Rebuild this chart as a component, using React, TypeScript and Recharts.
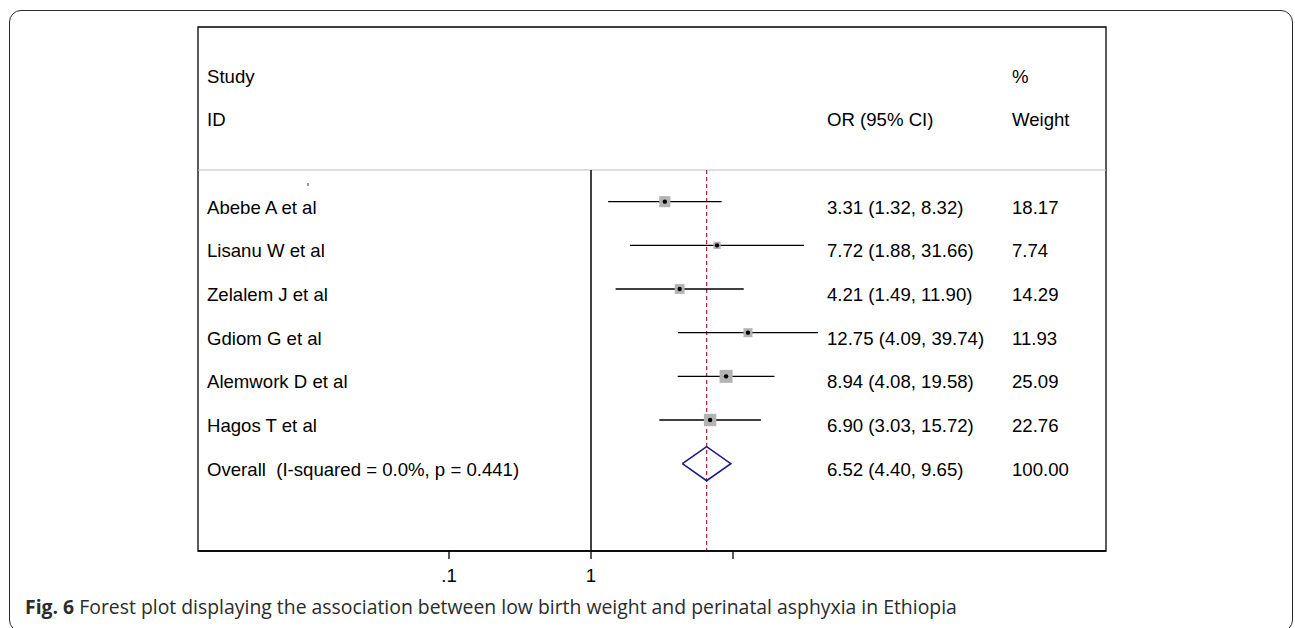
import { ComposedChart, XAxis, YAxis, Scatter, Line, ReferenceLine, ReferenceArea } from 'recharts';

// study rows
const studies = ['Abebe A et al', 'Lisanu W et al', 'Zelalem J et al', 'Gdiom G et al', 'Alemwork D et al', 'Hagos T et al'];
const oddsRatios = [3.31, 7.72, 4.21, 12.75, 8.94, 6.9];
const lowerCI = [1.32, 1.88, 1.49, 4.09, 4.08, 3.03];
const upperCI = [8.32, 31.66, 11.9, 39.74, 19.58, 15.72];
const weights = [18.17, 7.74, 14.29, 11.93, 25.09, 22.76];

// pooled estimate
const overallLabel = 'Overall  (I-squared = 0.0%, p = 0.441)';
const overallOR = 6.52;
const overallLower = 4.4;
const overallUpper = 9.65;
const overallWeight = 100;

// header + axis
const headerTop = ['Study', '', '%'];
const headerBottom = ['ID', 'OR (95% CI)', 'Weight'];
const xTicks = [0.1, 1, 10];
const xTickLabels = ['.1', '1', ''];

const FONT = '"Liberation Sans", Arial, Helvetica, sans-serif';
const FS = 18.6;
const X_DOMAIN: [number, number] = [0.001708, 4234];
const Y_DOMAIN: [number, number] = [-3, 9];
const SEP_Y = 0.275; // header separator, in row units
const COLS = [207, 827, 1012];

const ci = (o: number, l: number, u: number) => `${o.toFixed(2)} (${l.toFixed(2)}, ${u.toFixed(2)})`;

const overallRow = studies.length + 1;
const tableRows = [
  { y: -2, cells: headerTop },
  { y: -1, cells: headerBottom },
  { y: 0, cells: [] as string[] },
  ...studies.map((s, i) => ({
    y: i + 1,
    cells: [s, ci(oddsRatios[i], lowerCI[i], upperCI[i]), weights[i].toFixed(2)],
  })),
  { y: overallRow, cells: [overallLabel, ci(overallOR, overallLower, overallUpper), overallWeight.toFixed(2)] },
].map((r) => ({ ...r, x: 1 }));

const points = studies.map((s, i) => ({ name: s, x: oddsRatios[i], y: i + 1, w: weights[i] }));

const DH = 0.39; // diamond half height
const diamond = [
  { x: overallLower, y: overallRow },
  { x: overallOR, y: overallRow - DH },
  { x: overallUpper, y: overallRow },
  { x: overallOR, y: overallRow + DH },
  { x: overallLower, y: overallRow },
];

function RowText(props: any) {
  const { cy, payload } = props;
  if (payload.y === 0) {
    return <line x1={308} x2={308} y1={cy + 25} y2={cy + 28} stroke="#333" strokeWidth={1} />;
  }
  return (
    <g>
      {payload.cells.map((t: string, j: number) => (
        <text key={j} x={COLS[j]} y={cy + 12} fontSize={FS} fontFamily={FONT} fill="#000" style={{ whiteSpace: 'pre' }}>
          {t}
        </text>
      ))}
    </g>
  );
}

function Marker(props: any) {
  const { cx, cy, payload } = props;
  const side = 2.6 * Math.sqrt(payload.w);
  return (
    <g>
      <rect x={cx - side / 2} y={cy - side / 2} width={side} height={side} fill="#b3b3b3" />
      <circle cx={cx} cy={cy} r={2.2} fill="#000" />
    </g>
  );
}

export default function App() {
  return (
    <div style={{ position: 'fixed', left: 0, top: 0, width: 1295, height: 628, background: '#fff', overflow: 'hidden' }}>
      <div
        style={{
          position: 'absolute', left: 9, top: 10, width: 1282, height: 620,
          border: '1.5px solid #2a2a2a', borderRadius: 12,
        }}
      />
      <div style={{ position: 'absolute', left: 0, top: 0 }}>
        <ComposedChart width={1295} height={628} margin={{ top: 27, left: 198, right: 189, bottom: 37 }}>
          <XAxis
            type="number"
            dataKey="x"
            scale="log"
            domain={X_DOMAIN}
            allowDataOverflow
            ticks={xTicks}
            interval={0}
            height={40}
            tickSize={8}
            tickMargin={10}
            tickFormatter={(v: number) => xTickLabels[xTicks.indexOf(v)] ?? ''}
            tick={{ fontSize: FS, fontFamily: FONT, fill: '#000' }}
            axisLine={{ stroke: '#000', strokeWidth: 1.3 }}
            tickLine={{ stroke: '#000', strokeWidth: 1.3 }}
          />
          <YAxis type="number" dataKey="y" domain={Y_DOMAIN} reversed allowDataOverflow hide />
          <ReferenceArea
            x1={X_DOMAIN[0]} x2={X_DOMAIN[1]} y1={Y_DOMAIN[0]} y2={Y_DOMAIN[1]}
            fill="none" fillOpacity={0} stroke="#000" strokeWidth={1.3} ifOverflow="visible"
          />
          <ReferenceLine y={SEP_Y} stroke="#bdbdbd" strokeWidth={1.2} ifOverflow="visible" />
          <ReferenceLine
            segment={[{ x: 1, y: SEP_Y }, { x: 1, y: Y_DOMAIN[1] }]}
            stroke="#000" strokeWidth={1.5}
          />
          <ReferenceLine
            segment={[{ x: overallOR, y: SEP_Y }, { x: overallOR, y: Y_DOMAIN[1] }]}
            stroke="#b0283a" strokeWidth={1.3} strokeDasharray="4 3"
          />
          {studies.map((s, i) => (
            <ReferenceLine
              key={s}
              segment={[{ x: lowerCI[i], y: i + 1 }, { x: upperCI[i], y: i + 1 }]}
              stroke="#000" strokeWidth={1.4}
            />
          ))}
          <Scatter data={tableRows} shape={(p: any) => <RowText {...p} />} isAnimationActive={false} />
          <Scatter data={points} shape={(p: any) => <Marker {...p} />} isAnimationActive={false} />
          <Line
            data={diamond} dataKey="y" type="linear" stroke="#1c1c84" strokeWidth={1.6}
            dot={false} activeDot={false} isAnimationActive={false}
          />
        </ComposedChart>
      </div>
      <div
        style={{
          position: 'absolute', left: 25, top: 595, fontFamily: '"Open Sans", sans-serif', fontSize: 19.4,
          color: '#2b2b2b', whiteSpace: 'nowrap', lineHeight: '24px',
        }}
      >
        <b>Fig. 6</b> Forest plot displaying the association between low birth weight and perinatal asphyxia in Ethiopia
      </div>
    </div>
  );
}
